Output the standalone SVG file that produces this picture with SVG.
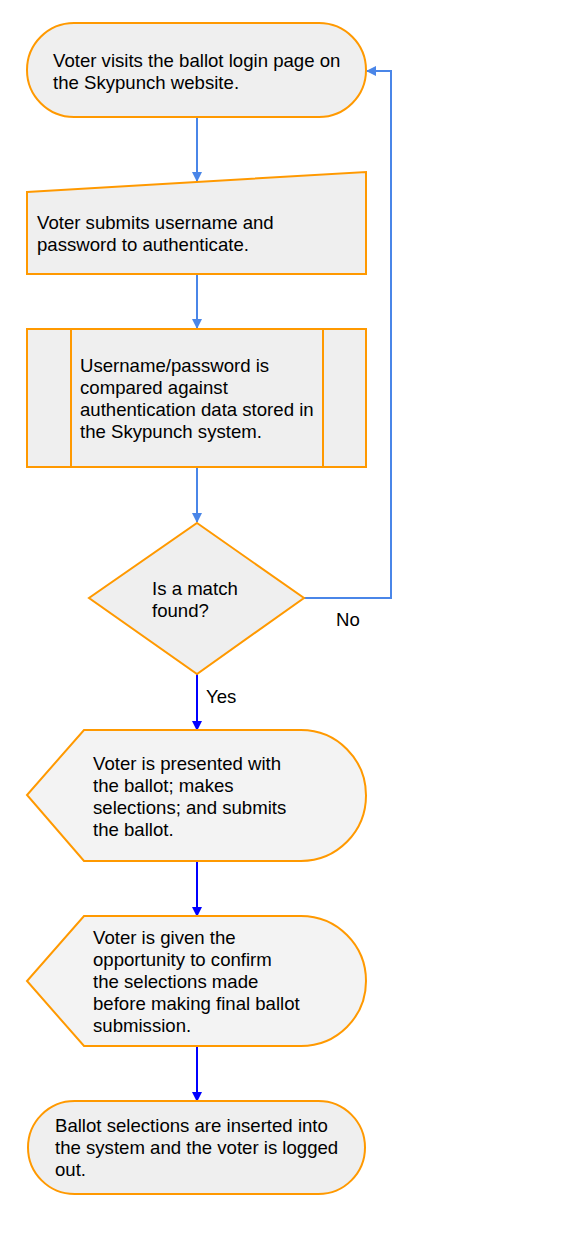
<svg xmlns="http://www.w3.org/2000/svg" width="586" height="1247" viewBox="0 0 586 1247">
<style>
.n{fill:#efefef;stroke:#ff9900;stroke-width:2}
.d{fill:#f3f3f3;stroke:#ff9900;stroke-width:2}
.t{font-family:"Liberation Sans",Arial,sans-serif;font-size:18.6px;fill:#000}
.c1{fill:none;stroke:#4a86e8;stroke-width:2}
.c2{fill:none;stroke:#0000ff;stroke-width:2}
</style>
<defs>
<marker id="a1" markerWidth="10" markerHeight="10" refX="9" refY="5" orient="auto" markerUnits="userSpaceOnUse"><path d="M0,0 L10,5 L0,10 z" fill="#4a86e8"/></marker>
<marker id="a2" markerWidth="10" markerHeight="10" refX="9" refY="5" orient="auto" markerUnits="userSpaceOnUse"><path d="M0,0 L10,5 L0,10 z" fill="#0000ff"/></marker>
</defs>
<rect width="586" height="1247" fill="#fff"/>
<g id="connectors">
<path class="c1" d="M197,117 V181" marker-end="url(#a1)"/>
<path class="c1" d="M197,274 V328" marker-end="url(#a1)"/>
<path class="c1" d="M197,467 V522" marker-end="url(#a1)"/>
<path class="c1" d="M304,598 H391 V71 H367" marker-end="url(#a1)"/>
<path class="c2" d="M197,674 V730" marker-end="url(#a2)"/>
<path class="c2" d="M197,861 V916" marker-end="url(#a2)"/>
<path class="c2" d="M197,1046 V1101" marker-end="url(#a2)"/>
<text class="t" x="336" y="626">No</text>
<text class="t" x="206" y="703">Yes</text>
</g>
<g id="n1">
<rect class="n" x="27" y="23" width="339" height="94" rx="47" ry="47"/>
<text class="t"><tspan x="53" y="67">Voter visits the ballot login page on</tspan><tspan x="53" y="89">the Skypunch website.</tspan></text>
</g>
<g id="n2">
<path class="n" d="M27,192 L366,172 V274 H27 Z"/>
<text class="t"><tspan x="37" y="229">Voter submits username and</tspan><tspan x="37" y="251">password to authenticate.</tspan></text>
</g>
<g id="n3">
<rect class="n" x="27" y="329" width="339" height="138"/>
<path class="n" d="M71,329 V467 M323,329 V467"/>
<text class="t"><tspan x="80" y="372">Username/password is</tspan><tspan x="80" y="394">compared against</tspan><tspan x="80" y="416">authentication data stored in</tspan><tspan x="80" y="438">the Skypunch system.</tspan></text>
</g>
<g id="n4">
<path class="n" d="M197,523 L304,598 L197,674 L89,598 Z"/>
<text class="t"><tspan x="152" y="595">Is a match</tspan><tspan x="152" y="617">found?</tspan></text>
</g>
<g id="n5">
<path class="d" d="M84,730 H301 A65,65.5 0 0 1 301,861 H84 L27,795 Z"/>
<text class="t"><tspan x="93" y="770">Voter is presented with</tspan><tspan x="93" y="792">the ballot; makes</tspan><tspan x="93" y="814">selections; and submits</tspan><tspan x="93" y="836">the ballot.</tspan></text>
</g>
<g id="n6">
<path class="d" d="M84,916 H301 A65,65 0 0 1 301,1046 H84 L27,981 Z"/>
<text class="t"><tspan x="93" y="944">Voter is given the</tspan><tspan x="93" y="966">opportunity to confirm</tspan><tspan x="93" y="988">the selections made</tspan><tspan x="93" y="1010">before making final ballot</tspan><tspan x="93" y="1032">submission.</tspan></text>
</g>
<g id="n7">
<rect class="n" x="28" y="1101" width="337" height="93" rx="46.5" ry="46.5"/>
<text class="t"><tspan x="55" y="1132">Ballot selections are inserted into</tspan><tspan x="55" y="1154">the system and the voter is logged</tspan><tspan x="55" y="1176">out.</tspan></text>
</g>
</svg>
